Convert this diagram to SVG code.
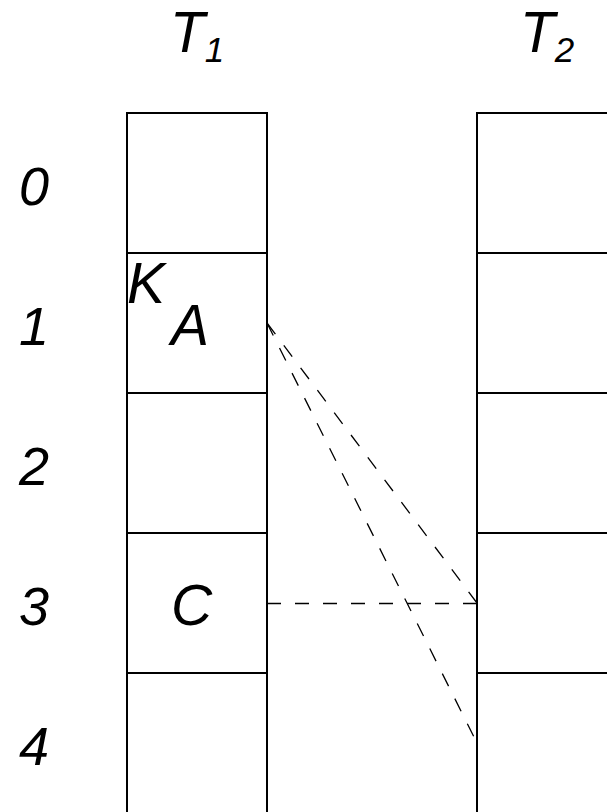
<svg xmlns="http://www.w3.org/2000/svg" width="607" height="812" viewBox="0 0 607 812">
  <style>
    .cell { fill: #ffffff; stroke: #000000; stroke-width: 2; }
    .lbl { font-family: "Liberation Sans", Arial, sans-serif; font-style: italic; font-size: 57px; fill: #000000; }
    .idx { font-family: "Liberation Sans", Arial, sans-serif; font-style: italic; font-size: 54px; fill: #000000; }
    .sub { font-size: 35px; }
    .link { fill: none; stroke: #000000; stroke-width: 1.3; stroke-dasharray: 14 14; }
  </style>
  <rect width="607" height="812" fill="#ffffff"/>

  <!-- table headers -->
  <g id="header-t1"><text class="lbl" x="170" y="52">T<tspan class="sub" dy="10">1</tspan></text></g>
  <g id="header-t2"><text class="lbl" x="520" y="52">T<tspan class="sub" dy="10">2</tspan></text></g>

  <!-- row indices -->
  <g id="row-index">
    <text class="idx" x="34" y="205" text-anchor="middle">0</text>
    <text class="idx" x="34" y="345" text-anchor="middle">1</text>
    <text class="idx" x="34" y="485" text-anchor="middle">2</text>
    <text class="idx" x="34" y="625" text-anchor="middle">3</text>
    <text class="idx" x="34" y="765" text-anchor="middle">4</text>
  </g>

  <!-- table T1 -->
  <g id="t1-0"><rect class="cell" x="127" y="113" width="140" height="140"/></g>
  <g id="t1-1">
    <rect class="cell" x="127" y="253" width="140" height="140"/>
    <text class="lbl" x="127" y="303">K</text>
    <text class="lbl" x="171" y="345">A</text>
  </g>
  <g id="t1-2"><rect class="cell" x="127" y="393" width="140" height="140"/></g>
  <g id="t1-3">
    <rect class="cell" x="127" y="533" width="140" height="140"/>
    <text class="lbl" x="171" y="625">C</text>
  </g>
  <g id="t1-4"><rect class="cell" x="127" y="673" width="140" height="140"/></g>

  <!-- table T2 -->
  <g id="t2-0"><rect class="cell" x="477" y="113" width="140" height="140"/></g>
  <g id="t2-1"><rect class="cell" x="477" y="253" width="140" height="140"/></g>
  <g id="t2-2"><rect class="cell" x="477" y="393" width="140" height="140"/></g>
  <g id="t2-3"><rect class="cell" x="477" y="533" width="140" height="140"/></g>
  <g id="t2-4"><rect class="cell" x="477" y="673" width="140" height="140"/></g>

  <!-- probe links -->
  <g id="connectors">
    <line class="link" x1="267" y1="323" x2="477" y2="603"/>
    <line class="link" x1="267" y1="323" x2="477" y2="743"/>
    <line class="link" x1="267" y1="603.5" x2="477" y2="603.5"/>
  </g>
</svg>
